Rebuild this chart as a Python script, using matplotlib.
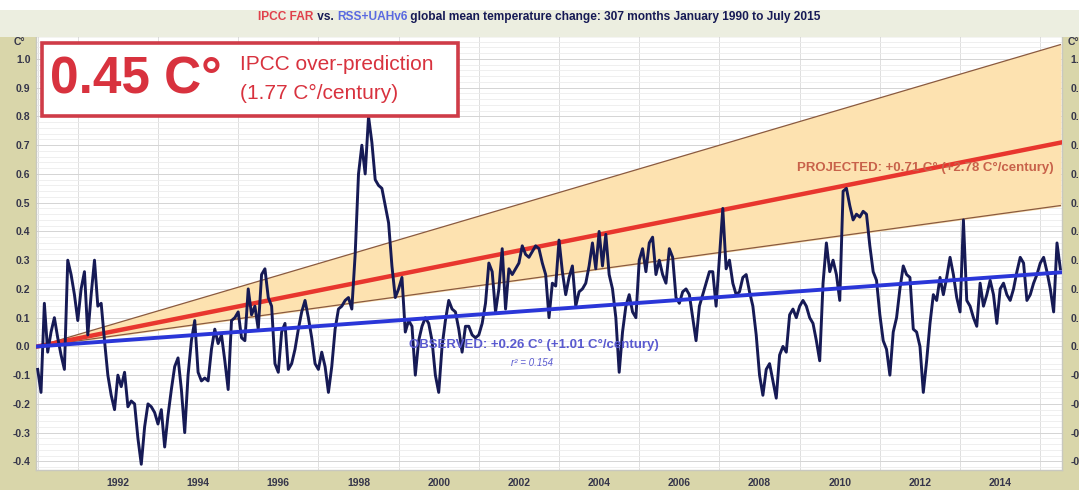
import matplotlib.pyplot as plt
import matplotlib.patches as mpatches
from matplotlib.ticker import MultipleLocator
import numpy as np

# RSS+UAHv6 mean monthly anomaly (C), Jan 1990 - Jul 2015, one row per year
anomaly = [
    -0.08, -0.16, 0.15, -0.02, 0.05, 0.10, 0.03, -0.03, -0.08, 0.30, 0.25, 0.18,   # 1990
    0.09, 0.20, 0.26, 0.04, 0.18, 0.30, 0.14, 0.15, 0.02, -0.10, -0.17, -0.22,      # 1991
    -0.10, -0.14, -0.09, -0.21, -0.19, -0.20, -0.32, -0.41, -0.28, -0.20, -0.21, -0.23,  # 1992
    -0.27, -0.22, -0.35, -0.24, -0.15, -0.07, -0.04, -0.15, -0.30, -0.10, 0.02, 0.09,    # 1993
    -0.09, -0.12, -0.11, -0.12, -0.01, 0.06, 0.01, 0.04, -0.05, -0.15, 0.09, 0.10,   # 1994
    0.12, 0.03, 0.02, 0.20, 0.11, 0.14, 0.06, 0.25, 0.27, 0.17, 0.14, -0.06,        # 1995
    -0.09, 0.05, 0.08, -0.08, -0.06, -0.01, 0.06, 0.12, 0.16, 0.10, 0.03, -0.06,    # 1996
    -0.08, -0.02, -0.07, -0.16, -0.07, 0.06, 0.13, 0.14, 0.16, 0.17, 0.13, 0.32,    # 1997
    0.60, 0.70, 0.60, 0.80, 0.71, 0.58, 0.56, 0.55, 0.49, 0.43, 0.28, 0.17,         # 1998
    0.20, 0.24, 0.05, 0.09, 0.07, -0.10, 0.02, 0.07, 0.10, 0.08, 0.02, -0.10,       # 1999
    -0.16, 0.00, 0.09, 0.16, 0.13, 0.12, 0.06, -0.02, 0.07, 0.07, 0.04, 0.03,       # 2000
    0.04, 0.08, 0.15, 0.29, 0.26, 0.12, 0.20, 0.34, 0.13, 0.27, 0.25, 0.27,         # 2001
    0.29, 0.35, 0.32, 0.31, 0.33, 0.35, 0.34, 0.29, 0.25, 0.10, 0.22, 0.21,         # 2002
    0.37, 0.26, 0.18, 0.24, 0.28, 0.14, 0.19, 0.20, 0.22, 0.28, 0.36, 0.27,         # 2003
    0.40, 0.28, 0.39, 0.25, 0.20, 0.10, -0.09, 0.05, 0.14, 0.18, 0.12, 0.10,        # 2004
    0.30, 0.34, 0.26, 0.36, 0.38, 0.25, 0.30, 0.25, 0.22, 0.34, 0.31, 0.17,         # 2005
    0.15, 0.19, 0.20, 0.18, 0.10, 0.02, 0.14, 0.18, 0.22, 0.26, 0.26, 0.14,         # 2006
    0.31, 0.48, 0.27, 0.30, 0.22, 0.18, 0.19, 0.24, 0.25, 0.19, 0.14, 0.04,         # 2007
    -0.10, -0.17, -0.08, -0.06, -0.12, -0.18, -0.03, 0.00, -0.02, 0.11, 0.13, 0.10,  # 2008
    0.14, 0.16, 0.14, 0.10, 0.08, 0.02, -0.05, 0.22, 0.36, 0.26, 0.30, 0.25,        # 2009
    0.16, 0.54, 0.55, 0.49, 0.44, 0.46, 0.45, 0.47, 0.46, 0.35, 0.26, 0.23,         # 2010
    0.11, 0.02, -0.01, -0.10, 0.05, 0.10, 0.20, 0.28, 0.25, 0.24, 0.06, 0.05,       # 2011
    0.00, -0.16, -0.05, 0.08, 0.18, 0.16, 0.24, 0.18, 0.24, 0.31, 0.25, 0.17,       # 2012
    0.12, 0.44, 0.16, 0.14, 0.10, 0.07, 0.22, 0.14, 0.18, 0.23, 0.18, 0.08,         # 2013
    0.20, 0.22, 0.18, 0.16, 0.20, 0.26, 0.31, 0.29, 0.16, 0.18, 0.22, 0.25,         # 2014
    0.29, 0.31, 0.26, 0.20, 0.12, 0.36, 0.27,                                       # 2015
]

proj_rate = 2.78      # C/century
obs_rate = 1.01       # C/century
r_squared = 0.154
over_pred = 0.45
over_rate = 1.77
band_hi_end = 1.05    # upper edge of the IPCC FAR range at Jul 2015
band_lo_end = 0.49    # lower edge
tick_years = list(range(1992, 2016, 2))
y_ticks = [1.0, 0.9, 0.8, 0.7, 0.6, 0.5, 0.4, 0.3, 0.2, 0.1, 0.0, -0.1, -0.2, -0.3, -0.4]

n = len(anomaly)
months = np.arange(n)
years_span = (n - 1) / 12.0
proj_end = proj_rate / 100 * years_span
obs_end = obs_rate / 100 * years_span

navy = '#161a55'
font = ['Liberation Sans', 'DejaVu Sans']

fig = plt.figure(figsize=(10.79, 4.90), dpi=100, facecolor='#d9d6aa')
# pale strip behind the title
fig.patches.append(mpatches.Rectangle((0, 0.925), 1, 0.055, transform=fig.transFigure,
                                      facecolor='#eceee0', edgecolor='none', zorder=0))
fig.patches.append(mpatches.Rectangle((0, 0.98), 1, 0.02, transform=fig.transFigure,
                                      facecolor='white', edgecolor='none', zorder=0))

ax = fig.add_axes([36 / 1079, 1 - 470 / 490, 1026 / 1079, 434 / 490])
ax.set_facecolor('white')
ax.set_xlim(-0.5, n - 0.5)
ax.set_ylim(-0.43, 1.08)

# grid
ax.yaxis.set_major_locator(MultipleLocator(0.1))
ax.yaxis.set_minor_locator(MultipleLocator(0.02))
ax.xaxis.set_minor_locator(MultipleLocator(12))
ax.set_xticks([(y - 1990) * 12 for y in tick_years])
ax.grid(which='minor', axis='y', color='#ececec', lw=0.6)
ax.grid(which='major', axis='y', color='#d4d4d4', lw=0.7)
ax.grid(which='minor', axis='x', color='#dedede', lw=0.7)
ax.set_axisbelow(True)

# IPCC FAR projection range
xs = np.array([0, n - 1])
ax.fill_between(xs, [0, band_lo_end], [0, band_hi_end], color='#fde2b0', zorder=1)
ax.plot(xs, [0, band_hi_end], color='#8a5a40', lw=0.9, zorder=2)
ax.plot(xs, [0, band_lo_end], color='#8a5a40', lw=0.9, zorder=2)
ax.plot(xs, [0, proj_end], color='#e8362e', lw=3.2, zorder=3)

# observations and trend
ax.plot(months, anomaly, color=navy, lw=2.1, zorder=4)
ax.plot(xs, [0, obs_end], color='#2a36d8', lw=2.8, zorder=5)

ax.text(n - 3, 0.62,
        f'PROJECTED: +{proj_end:.2f} C\u00b0 (+{proj_rate:.2f} C\u00b0/century)',
        ha='right', va='center', color='#c8624a', fontsize=9.5, fontweight='bold',
        family=font, zorder=6)
ax.text(111, 0.005, f'OBSERVED: +{obs_end:.2f} C\u00b0 (+{obs_rate:.2f} C\u00b0/century)',
        ha='left', va='center', color='#5a5ad0', fontsize=9.5, fontweight='bold',
        family=font, zorder=6)
ax.text(148, -0.058, f'r\u00b2 = {r_squared}', ha='center', va='center',
        color='#5a5ad0', fontsize=7, style='italic', family=font, zorder=6)

for s in ax.spines.values():
    s.set_color('#c8c8c0')
    s.set_linewidth(1.0)

tick_style = dict(fontsize=7.5, fontweight='bold', color='#35354a')
ax.set_yticks(y_ticks)
ax.set_yticklabels([f'{v:.1f}' for v in y_ticks], family=font, **tick_style)
ax.set_xticklabels([str(y) for y in tick_years], family=font, **tick_style)
ax.tick_params(axis='both', which='both', length=0)
ax.tick_params(axis='y', pad=4)
ax.tick_params(axis='x', pad=6)

ax2 = ax.twinx()
ax2.set_ylim(ax.get_ylim())
ax2.set_yticks(y_ticks)
ax2.set_yticklabels([f'{v:.1f}' for v in y_ticks], family=font, **tick_style)
ax2.tick_params(axis='y', length=0, pad=6)
for s in ax2.spines.values():
    s.set_visible(False)

fig.text(14 / 1079, 1 - 42 / 490, 'C\u00b0', ha='left', va='center', family=font, **tick_style)
fig.text(1068 / 1079, 1 - 42 / 490, 'C\u00b0', ha='left', va='center', family=font, **tick_style)

# over-prediction box
box = mpatches.Rectangle((42 / 1079, 1 - 116 / 490), 416 / 1079, 73 / 490,
                         transform=fig.transFigure, facecolor='white',
                         edgecolor='#cf3c48', lw=2.6, zorder=10)
fig.patches.append(box)
fig.text(50 / 1079, 1 - 80 / 490, f'{over_pred:.2f} C\u00b0', ha='left', va='center',
         color='#d8323e', fontsize=37, fontweight='bold', family=font, zorder=11)
fig.text(240 / 1079, 1 - 65 / 490, 'IPCC over-prediction', ha='left', va='center',
         color='#d8323e', fontsize=15, family=font, zorder=11)
fig.text(240 / 1079, 1 - 93 / 490, f'({over_rate:.2f} C\u00b0/century)', ha='left',
         va='center', color='#d8323e', fontsize=15, family=font, zorder=11)

# multi-coloured title
parts = [('IPCC FAR', '#e0404a'), (' vs. ', navy), ('RSS+UAHv6', '#5a6ae0'),
         (f' global mean temperature change: {n} months January 1990 to July 2015', navy)]
renderer = fig.canvas.get_renderer()
pieces = []
x = 0.0
for s, c in parts:
    t = fig.text(x, 1 - 17 / 490, s, color=c, fontsize=8.6, fontweight='bold',
                 family=font, ha='left', va='center')
    w = t.get_window_extent(renderer).width / fig.bbox.width
    pieces.append((t, x))
    x += w
start = 0.5 - x / 2
for t, off in pieces:
    t.set_x(start + off)

fig.savefig('out.png', dpi=100, facecolor=fig.get_facecolor())
